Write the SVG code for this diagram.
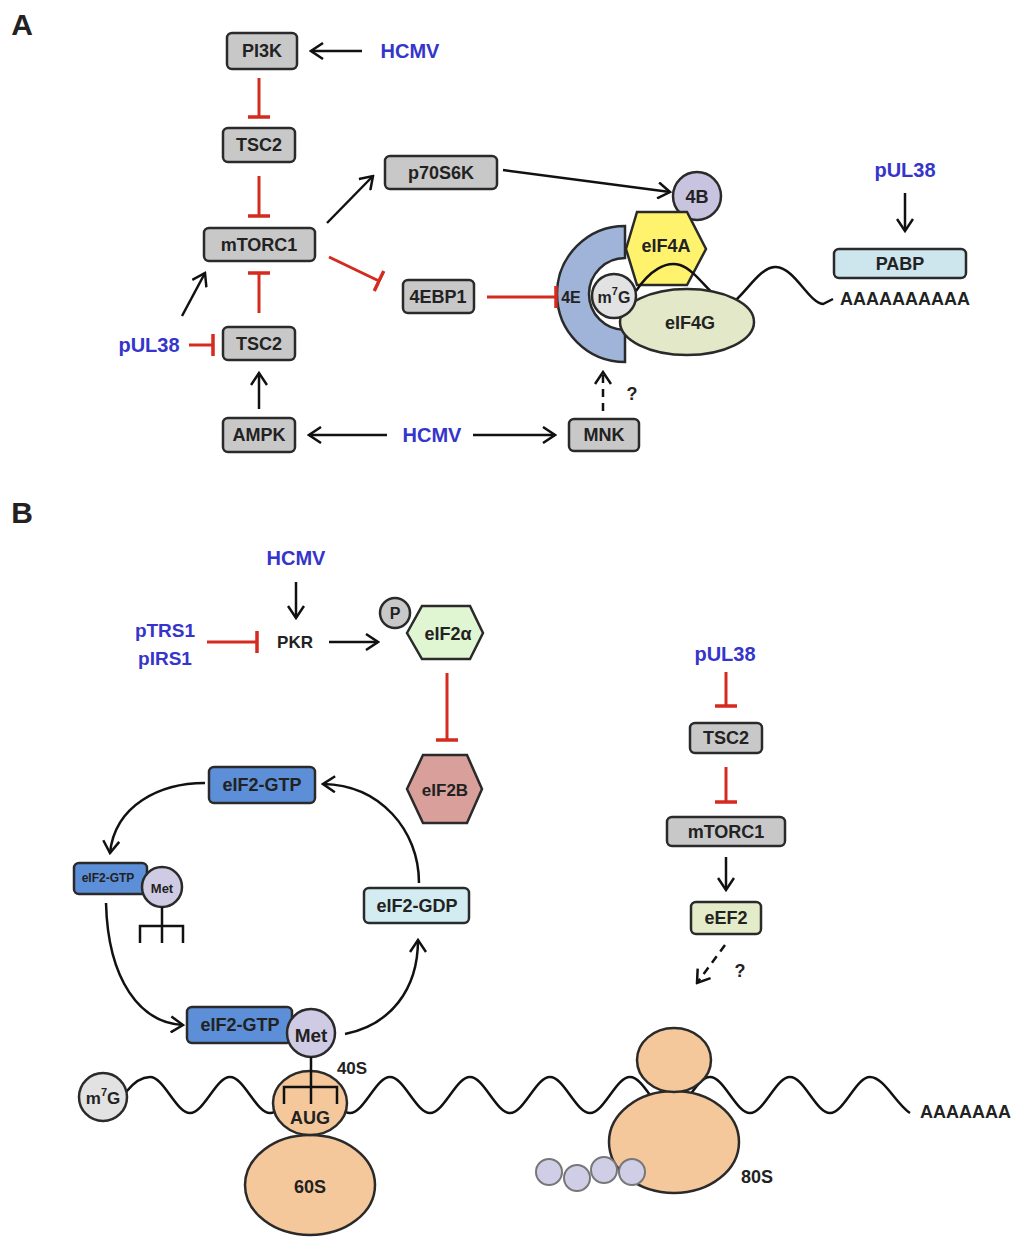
<svg xmlns="http://www.w3.org/2000/svg" width="1024" height="1251" viewBox="0 0 1024 1251">
<style>
.box{stroke:#2a2a2a;stroke-width:2.5}
.g{fill:#c8c8c8}
.t{font-family:"Liberation Sans",Arial,sans-serif;font-weight:bold;font-size:18px;fill:#222;text-anchor:middle;dominant-baseline:central}
.bl{fill:#3535cc;font-size:20px}
.act{stroke:#111;stroke-width:2.5;fill:none;marker-end:url(#arr)}
.dash{stroke-dasharray:8 6}
.inh{stroke:#d42a1f;stroke-width:3;fill:none;marker-end:url(#bar)}
.ol{stroke:#2a2a2a;stroke-width:2.5}
.ln{stroke:#111;stroke-width:2.5;fill:none}
.peach{fill:#f5c89c}
.pur{fill:#d0cde6;stroke:#777;stroke-width:2}
</style>
<defs>
<marker id="arr" viewBox="0 0 16 18" refX="14" refY="9" markerWidth="16" markerHeight="18" markerUnits="userSpaceOnUse" orient="auto">
<path d="M2,1 L14,9 L2,17" fill="none" stroke="#111" stroke-width="2.5"/>
</marker>
<marker id="bar" viewBox="0 0 4 24" refX="2" refY="12" markerWidth="4" markerHeight="24" markerUnits="userSpaceOnUse" orient="auto">
<path d="M2,1 L2,23" stroke="#d42a1f" stroke-width="3.5"/>
</marker>
</defs>
<rect width="1024" height="1251" fill="#fff"/>

<text class="t" x="22" y="24" style="font-size:30px">A</text>
<text class="t" x="22" y="512" style="font-size:30px">B</text>

<!-- Panel A nodes -->
<g id="PI3K"><rect class="box g" x="227" y="33" width="70" height="36" rx="5"/><text class="t" x="262" y="51">PI3K</text></g>
<g id="HCMV_A1"><text class="t bl" x="410" y="51">HCMV</text></g>
<g id="TSC2_A1"><rect class="box g" x="223" y="128" width="72" height="34" rx="5"/><text class="t" x="259" y="145">TSC2</text></g>
<g id="mTORC1_A"><rect class="box g" x="204" y="228" width="111" height="33" rx="5"/><text class="t" x="259" y="245">mTORC1</text></g>
<g id="p70S6K"><rect class="box g" x="385" y="156" width="112" height="33" rx="5"/><text class="t" x="441" y="173">p70S6K</text></g>
<g id="4EBP1"><rect class="box g" x="403" y="280" width="71" height="33" rx="5"/><text class="t" x="438" y="297">4EBP1</text></g>
<g id="pUL38_A1"><text class="t bl" x="149" y="345">pUL38</text></g>
<g id="TSC2_A2"><rect class="box g" x="223" y="327" width="72" height="33" rx="5"/><text class="t" x="259" y="344">TSC2</text></g>
<g id="AMPK"><rect class="box g" x="223" y="418" width="72" height="34" rx="5"/><text class="t" x="259" y="435">AMPK</text></g>
<g id="HCMV_A2"><text class="t bl" x="432" y="435">HCMV</text></g>
<g id="MNK"><rect class="box g" x="569" y="419" width="70" height="32" rx="5"/><text class="t" x="604" y="435">MNK</text></g>

<g id="complex">
<circle id="4B" class="ol" cx="697" cy="196" r="24" fill="#c8c3df"/>
<text class="t" x="697" y="197">4B</text>
<path id="4E" class="ol" fill="#9fb4d8" d="M625,226 A68,68 0 0 0 625,362 L625,330 A36,36 0 0 1 625,258 Z"/>
<text class="t" x="571" y="297" style="font-size:16px">4E</text>
<polygon id="eIF4A" class="ol" fill="#fff36e" points="626,249 637,212 687,212 706,249 687,285 637,285"/>
<text class="t" x="666" y="246">eIF4A</text>
<path class="ln" d="M636,291 C650,270 666,261 680,265 C698,271 712,300 730,305 C745,295 760,266 776,267 C795,268 808,302 823,304 L833,299"/>
<ellipse id="eIF4G" class="ol" cx="687" cy="322" rx="67" ry="33" fill="#e3e8c9"/>
<text class="t" x="690" y="323">eIF4G</text>
<circle id="m7G_A" class="ol" cx="614" cy="296" r="22" fill="#e2e2e2"/>
<text class="t" x="614" y="297" style="font-size:16px">m<tspan dy="-6" style="font-size:11px">7</tspan><tspan dy="6">G</tspan></text>
</g>
<g id="pUL38_A2"><text class="t bl" x="905" y="170">pUL38</text></g>
<g id="PABP"><rect class="box" fill="#cde6ee" x="834" y="249" width="132" height="29" rx="5"/><text class="t" x="900" y="264">PABP</text></g>
<g id="polyA_A"><text class="t" x="840" y="299" style="text-anchor:start">AAAAAAAAAA</text></g>
<text class="t" x="632" y="394">?</text>

<!-- Panel B nodes -->
<g id="HCMV_B"><text class="t bl" x="296" y="558">HCMV</text></g>
<g id="PKR"><text class="t" x="295" y="642" style="font-size:17px">PKR</text></g>
<g id="pTRS1"><text class="t bl" x="165" y="630" style="font-size:19px">pTRS1</text><text class="t bl" x="165" y="658" style="font-size:19px">pIRS1</text></g>
<g id="eIF2a"><polygon class="ol" fill="#e0f5d2" points="407,633 422,606 470,606 483,633 470,659 422,659"/><text class="t" x="448" y="634">eIF2α</text>
<circle class="ol" cx="395" cy="613" r="15" fill="#c8c8c8"/><text class="t" x="395" y="613" style="font-size:16px">P</text></g>
<g id="eIF2B"><polygon class="ol" fill="#d9a09b" points="407,789 423,755 467,755 482,789 467,823 423,823"/><text class="t" x="445" y="790" style="font-size:17px">eIF2B</text></g>

<g id="eIF2GTP_top"><rect class="box" fill="#5c8fd8" x="209" y="767" width="106" height="36" rx="5"/><text class="t" x="262" y="785">eIF2-GTP</text></g>
<g id="eIF2GTP_small"><rect class="box" fill="#5c8fd8" x="74" y="863" width="73" height="31" rx="5"/><text class="t" x="108" y="878" style="font-size:12px">eIF2-GTP</text>
<circle class="ol" cx="162" cy="887" r="20" fill="#d0cbe4"/><text class="t" x="162" y="888" style="font-size:13px">Met</text>
<path class="ln" d="M162,907 V943 M140,943 V926 H183 V943"/></g>
<g id="eIF2GDP"><rect class="box" fill="#d3ecf2" x="364" y="888" width="105" height="35" rx="5"/><text class="t" x="417" y="906">eIF2-GDP</text></g>

<!-- mRNA B -->
<path class="ln" d="M126,1092 C134,1082 142,1077 150,1077 C164,1077 176,1113 190,1113 C204,1113 216,1077 230,1077 C244,1077 256,1113 270,1113 C284,1113 296,1077 310,1077 C324,1077 336,1113 350,1113 C364,1113 376,1077 390,1077 C404,1077 416,1113 430,1113 C444,1113 456,1077 470,1077 C484,1077 496,1113 510,1113 C524,1113 536,1077 550,1077 C564,1077 576,1113 590,1113 C604,1113 616,1077 630,1077 C644,1077 656,1113 670,1113 C684,1113 696,1077 710,1077 C724,1077 736,1113 750,1113 C764,1113 776,1077 790,1077 C804,1077 816,1113 830,1113 C844,1113 856,1077 870,1077 C884,1077 896,1104 910,1113"/>
<g id="m7G_B"><circle class="ol" cx="103" cy="1097" r="24" fill="#e2e2e2"/><text class="t" x="103" y="1098" style="font-size:17px">m<tspan dy="-6" style="font-size:11px">7</tspan><tspan dy="6">G</tspan></text></g>
<g id="polyA_B"><text class="t" x="920" y="1112" style="text-anchor:start">AAAAAAA</text></g>

<g id="ribosome1">
<ellipse class="ol peach" cx="310" cy="1185" rx="65" ry="50"/>
<text class="t" x="310" y="1187">60S</text>
<ellipse class="ol peach" cx="310" cy="1103" rx="37" ry="32"/>
<text class="t" x="310" y="1118">AUG</text>
<text class="t" x="352" y="1068" style="font-size:17px">40S</text>
<rect class="box" fill="#5c8fd8" x="187" y="1007" width="105" height="36" rx="5"/><text class="t" x="240" y="1025">eIF2-GTP</text>
<circle class="ol" cx="311" cy="1033" r="24" fill="#d0cbe4"/><text class="t" x="311" y="1035" style="font-size:19px">Met</text>
<path class="ln" d="M311,1057 V1104 M284,1104 V1087 H337 V1104"/>
</g>

<g id="ribosome80S">
<ellipse class="ol peach" cx="674" cy="1142" rx="65" ry="51"/>
<ellipse class="ol peach" cx="674" cy="1060" rx="37" ry="32"/>
<circle class="pur" cx="549" cy="1172" r="13"/>
<circle class="pur" cx="577" cy="1178" r="13"/>
<circle class="pur" cx="604" cy="1170" r="13"/>
<circle class="pur" cx="632" cy="1172" r="13"/>
<text class="t" x="757" y="1177">80S</text>
</g>

<g id="pUL38_B"><text class="t bl" x="725" y="654">pUL38</text></g>
<g id="TSC2_B"><rect class="box g" x="690" y="723" width="72" height="30" rx="5"/><text class="t" x="726" y="738">TSC2</text></g>
<g id="mTORC1_B"><rect class="box g" x="667" y="817" width="118" height="29" rx="5"/><text class="t" x="726" y="832">mTORC1</text></g>
<g id="eEF2"><rect class="box" fill="#e3ebc9" x="691" y="902" width="70" height="32" rx="5"/><text class="t" x="726" y="918">eEF2</text></g>
<text class="t" x="740" y="971">?</text>

<!-- connectors -->
<g id="connectors">
<path class="act" d="M362,51 L311,51"/>
<path class="inh" d="M259,78 L259,117"/>
<path class="inh" d="M259,176 L259,216"/>
<path class="act" d="M327,223 L373,176"/>
<path class="inh" d="M329,257 L379,281"/>
<path class="inh" d="M487,297 L556,297"/>
<path class="act" d="M182,316 L205,273"/>
<path class="inh" d="M259,313 L259,273"/>
<path class="inh" d="M189,345 L213,345"/>
<path class="act" d="M259,409 L259,373"/>
<path class="act" d="M387,435 L309,435"/>
<path class="act" d="M473,435 L555,435"/>
<path class="act dash" d="M603,411 L603,372"/>
<path class="act" d="M503,170 L670,192"/>
<path class="act" d="M905,193 L905,231"/>

<path class="act" d="M296,582 L296,618"/>
<path class="inh" d="M207,642 L257,642"/>
<path class="act" d="M329,642 L378,642"/>
<path class="inh" d="M447,673 L447,740"/>
<path class="act" d="M205,783 C160,783 115,805 110,853"/>
<path class="act" d="M106,903 C108,980 140,1023 183,1025"/>
<path class="act" d="M345,1034 C390,1025 418,990 418,940"/>
<path class="act" d="M419,883 C419,830 380,785 323,784"/>

<path class="inh" d="M726,672 L726,706"/>
<path class="inh" d="M726,767 L726,802"/>
<path class="act" d="M726,857 L726,890"/>
<path class="act dash" d="M725,945 L697,983"/>
</g>
</svg>
